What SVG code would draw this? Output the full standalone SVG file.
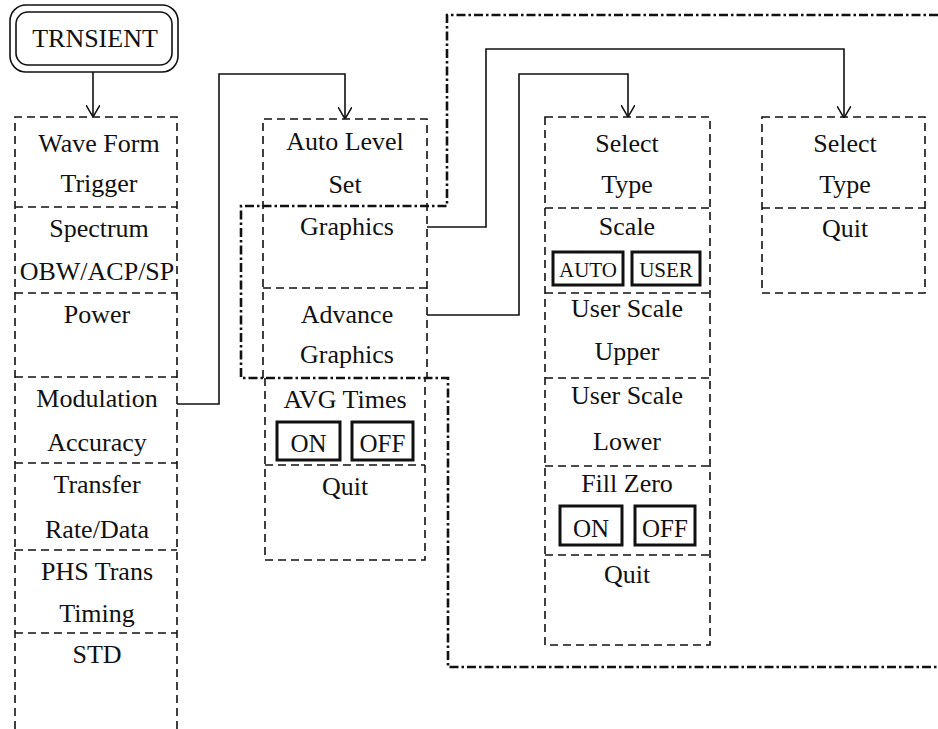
<svg xmlns="http://www.w3.org/2000/svg" width="938" height="729" viewBox="0 0 938 729">
<style>
text{font-family:"Liberation Serif","Times New Roman",serif;font-size:26px;fill:#111;text-anchor:middle}
.d{fill:none;stroke:#111;stroke-width:1.6;stroke-dasharray:8 5}
.dd{fill:none;stroke:#111;stroke-width:2.6;stroke-dasharray:9 3 2.5 3}
.c{fill:none;stroke:#111;stroke-width:1.6}
.b{fill:#fff;stroke:#111;stroke-width:3}
.s{font-size:21px}
.o{font-size:25px}
</style>
<defs>
<marker id="arr" viewBox="0 0 12 14" refX="12" refY="7" markerWidth="12" markerHeight="14" markerUnits="userSpaceOnUse" orient="auto">
<path d="M0,0 L12,7 L0,14" fill="none" stroke="#111" stroke-width="1.5"/>
</marker>
</defs>
<rect width="938" height="729" fill="#fff"/>

<g id="frame-dashdot">
<path class="dd" d="M938,15 H447 V206 H241 V378 H448 V667 H938"/>
</g>

<g id="connectors">
<path class="c" d="M93,72 V117" marker-end="url(#arr)"/>
<path class="c" d="M177,404 H219 V74 H345 V119" marker-end="url(#arr)"/>
<path class="c" d="M427,227 H486 V49 H844 V118" marker-end="url(#arr)"/>
<path class="c" d="M427,315 H519 V74 H628 V117" marker-end="url(#arr)"/>
</g>

<g id="trnsient">
<rect x="10" y="5" width="168" height="67" rx="16" fill="none" stroke="#111" stroke-width="1.6"/>
<rect x="16" y="12" width="156" height="53" rx="12" fill="none" stroke="#111" stroke-width="1.6"/>
<text x="95" y="47">TRNSIENT</text>
</g>

<g id="menu1">
<path class="d" d="M15,729 V117 H177 V729"/>
<g id="wave-form"><text x="99" y="152">Wave Form</text><text x="99" y="192">Trigger</text></g>
<line class="d" x1="15" y1="207" x2="177" y2="207"/>
<g id="spectrum"><text x="99" y="237">Spectrum</text><text x="97" y="280">OBW/ACP/SP</text></g>
<line class="d" x1="15" y1="293" x2="177" y2="293"/>
<g id="power"><text x="97" y="323">Power</text></g>
<line class="d" x1="15" y1="377" x2="177" y2="377"/>
<g id="modulation"><text x="97" y="407">Modulation</text><text x="97" y="451">Accuracy</text></g>
<line class="d" x1="15" y1="463" x2="177" y2="463"/>
<g id="transfer"><text x="97" y="493">Transfer</text><text x="97" y="538">Rate/Data</text></g>
<line class="d" x1="15" y1="550" x2="177" y2="550"/>
<g id="phs"><text x="97" y="580">PHS Trans</text><text x="97" y="622">Timing</text></g>
<line class="d" x1="15" y1="633" x2="177" y2="633"/>
<g id="std"><text x="97" y="663">STD</text></g>
</g>

<g id="menu2">
<path class="d" d="M263,378 V119 H427 V378"/>
<g id="auto-level"><text x="345" y="150">Auto Level</text><text x="345" y="193">Set</text></g>
<g id="graphics"><text x="347" y="235">Graphics</text></g>
<line class="d" x1="263" y1="288" x2="427" y2="288"/>
<g id="advance-graphics"><text x="347" y="323">Advance</text><text x="347" y="363">Graphics</text></g>
<g id="avg-times">
<path class="d" d="M265,378 V560 H425 V378"/>
<text x="345" y="408">AVG Times</text>
<rect class="b" x="277" y="422" width="63" height="38"/>
<text class="o" x="308.5" y="452">ON</text>
<rect class="b" x="352" y="422" width="61" height="38"/>
<text class="o" x="382.5" y="452">OFF</text>
<line class="d" x1="265" y1="465" x2="425" y2="465"/>
</g>
<g id="quit2"><text x="345" y="495">Quit</text></g>
</g>

<g id="menu3">
<rect class="d" x="545" y="117" width="165" height="528"/>
<g id="select-type3"><text x="627" y="152">Select</text><text x="627" y="193">Type</text></g>
<line class="d" x1="545" y1="208" x2="710" y2="208"/>
<g id="scale"><text x="627" y="235">Scale</text>
<rect class="b" x="553" y="252" width="70" height="33"/>
<text class="s" x="588" y="277">AUTO</text>
<rect class="b" x="632" y="252" width="68" height="33"/>
<text class="s" x="666" y="277">USER</text></g>
<line class="d" x1="545" y1="293" x2="710" y2="293"/>
<g id="user-upper"><text x="627" y="317">User Scale</text><text x="627" y="360">Upper</text></g>
<line class="d" x1="545" y1="378" x2="710" y2="378"/>
<g id="user-lower"><text x="627" y="404">User Scale</text><text x="627" y="450">Lower</text></g>
<line class="d" x1="545" y1="466" x2="710" y2="466"/>
<g id="fill-zero"><text x="627" y="492">Fill Zero</text>
<rect class="b" x="560" y="506" width="62" height="39"/>
<text class="o" x="591" y="537">ON</text>
<rect class="b" x="635" y="506" width="60" height="39"/>
<text class="o" x="665" y="537">OFF</text></g>
<line class="d" x1="545" y1="555" x2="710" y2="555"/>
<g id="quit3"><text x="627" y="583">Quit</text></g>
</g>

<g id="menu4">
<rect class="d" x="762" y="117" width="163" height="176"/>
<g id="select-type4"><text x="845" y="152">Select</text><text x="845" y="193">Type</text></g>
<line class="d" x1="762" y1="208" x2="925" y2="208"/>
<g id="quit4"><text x="845" y="237">Quit</text></g>
</g>
</svg>
